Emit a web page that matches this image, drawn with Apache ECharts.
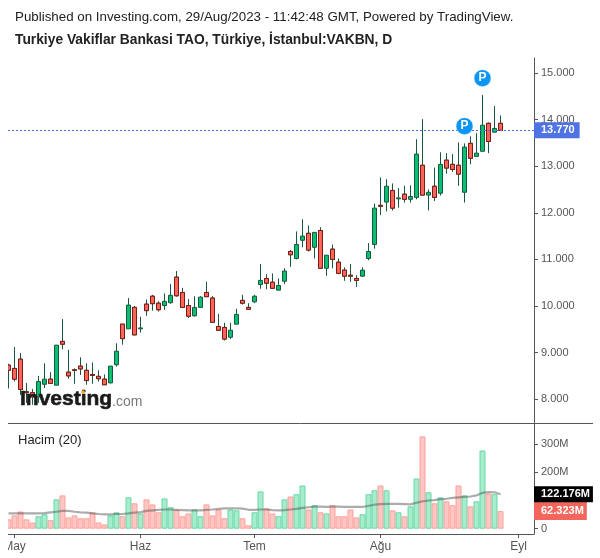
<!DOCTYPE html>
<html><head><meta charset="utf-8">
<style>html,body{margin:0;padding:0;background:#fff}#c{width:600px;height:558px}</style>
<script src="https://cdn.jsdelivr.net/npm/echarts@6/dist/echarts.min.js"></script>
</head><body><div id="c"></div>
<script>
// open, close, low, high per trading day
const opens=[8.73,8.66,8.86,8.16,8.14,8.05,8.32,8.43,8.30,9.24,8.58,8.63,8.71,8.62,8.53,8.49,8.43,8.35,8.74,9.61,9.51,9.97,9.51,10.04,10.21,10.06,10.01,10.07,10.62,10.29,10.01,9.79,9.97,10.29,10.17,9.56,9.54,9.33,9.61,10.12,9.97,10.09,10.46,10.59,10.51,10.34,10.53,11.17,11.02,11.41,11.56,11.26,11.62,10.81,11.22,10.94,10.77,10.66,10.59,10.64,11.02,11.32,12.16,12.23,12.48,12.30,12.40,12.29,12.33,13.02,12.38,12.57,12.42,13.13,13.04,13.02,12.44,13.49,13.21,13.32,13.92,13.73,13.92];
const closes=[8.62,8.43,8.21,8.14,8.05,8.38,8.43,8.34,9.16,9.18,8.50,8.62,8.65,8.40,8.51,8.44,8.31,8.71,9.03,9.30,10.02,9.38,9.53,9.90,10.05,9.92,10.10,10.23,10.22,9.97,9.78,9.97,10.19,10.20,9.65,9.48,9.29,9.48,9.82,10.06,9.93,10.21,10.55,10.49,10.38,10.44,10.75,11.10,11.32,11.50,11.20,11.58,10.81,11.09,11.00,10.70,10.64,10.64,10.55,10.77,11.17,12.10,12.14,12.57,12.10,12.32,12.29,12.35,13.26,12.38,12.44,12.33,13.04,12.96,12.93,12.83,13.41,13.17,13.28,13.88,13.53,13.81,13.77];
const lows=[8.23,8.38,8.09,7.92,7.88,7.92,8.24,8.34,8.30,9.07,8.44,8.33,8.52,8.31,8.33,8.38,8.31,8.34,8.70,9.17,9.51,9.38,9.43,9.79,9.90,9.88,9.92,10.05,10.20,9.97,9.74,9.77,9.97,10.20,9.65,9.48,9.26,9.29,9.61,10.03,9.92,10.06,10.37,10.36,10.38,10.34,10.47,10.84,11.00,11.26,11.17,11.02,10.81,10.65,10.81,10.68,10.54,10.52,10.41,10.62,10.98,11.23,11.95,12.03,12.05,12.11,12.22,12.22,12.29,12.38,12.05,12.25,12.37,12.84,12.88,12.58,12.22,13.04,13.21,13.32,13.28,13.73,13.77];
const highs=[8.76,9.12,8.99,8.35,8.22,8.50,8.77,8.58,9.16,9.72,9.06,8.66,8.90,8.77,8.79,8.62,8.53,8.71,9.20,9.61,10.17,10.00,9.77,10.14,10.24,10.10,10.27,10.47,10.75,10.39,10.15,10.21,10.21,10.52,10.21,9.83,9.64,9.64,9.94,10.24,10.06,10.24,10.90,10.68,10.70,10.59,10.81,11.20,11.60,11.86,11.73,11.58,11.69,11.09,11.32,11.02,10.83,10.90,10.66,10.83,11.35,12.20,12.76,12.72,12.63,12.53,12.58,12.59,13.58,14.01,12.50,12.97,13.30,13.28,13.26,13.51,13.49,13.64,13.71,14.53,13.94,14.29,14.09];
// volume in millions
const volumes=[33,47,61,33,22,44,51,30,104,118,40,47,37,37,58,22,15,47,58,44,111,90,54,104,86,58,107,76,66,44,54,68,44,86,47,68,37,68,65,37,12,58,132,72,54,44,104,114,122,153,68,83,58,54,83,44,44,68,40,51,122,136,153,136,65,58,44,79,178,327,129,90,111,97,83,153,118,79,97,277,125,122,62.323];
const volumeAvg=[54,54,54,54,54,54,55,58,60,63,63,60,58,57,54,52,51,51,52,52,54,57,59,63,65,67,68,68,67,66,65,65,65,67,68,70,72,72,72,71,67,67,68,68,66,65,66,68,70,74,76,78,78,77,78,78,77,77,77,77,81,85,87,88,88,88,87,86,92,97,100,101,105,106,109,111,113,114,118,127,130,129,122.176];
const monthTicks=[1,22,41,62,85];
const monthNames=['May','Haz','Tem','Ağu','Eyl'];
const priceTicks=[8,9,10,11,12,13,14,15];
const volumeTicks=[0,100,200,300];
const lastPrice=13.77, lastAvg=122.176, lastVolume=62.323;
const pins=[[76,13.86],[79,14.89]];

const FONT='"Liberation Sans",Arial,sans-serif', AX='#555';
const idx=opens.map((_,i)=>i);
const xBase={type:'value',min:-0.0833,max:87.5833,splitLine:{show:false},
  axisLine:{onZero:false,lineStyle:{color:AX,width:1}}};
const yBase={type:'value',position:'right',scale:true,splitLine:{show:false},
  axisLine:{show:true,onZero:false,lineStyle:{color:AX,width:1}},
  axisTick:{show:true,length:4,lineStyle:{color:AX}}};
const tagLabel=(text,bg,pad)=>({position:'end',distance:0,formatter:()=>text,color:'#fff',fontWeight:'bold',fontSize:11,
  backgroundColor:bg,padding:pad,lineHeight:12,fontFamily:FONT});
const chart=echarts.init(document.getElementById('c'),null,{renderer:'canvas'});
chart.setOption({
  animation:false,
  textStyle:{fontFamily:FONT},
  title:[
    {text:'Published on Investing.com, 29/Aug/2023 - 11:42:48 GMT, Powered by TradingView.',left:15,top:11,padding:0,textStyle:{fontSize:13.33,fontWeight:'normal',color:'#222',fontFamily:FONT}},
    {text:'Turkiye Vakiflar Bankasi TAO, Türkiye, İstanbul:VAKBN, D',left:15,top:33,padding:0,textStyle:{fontSize:13.8,fontWeight:'bold',color:'#222',fontFamily:FONT}},
    {text:'Hacim (20)',left:18,top:434,padding:0,textStyle:{fontSize:13,fontWeight:'normal',color:'#222',fontFamily:FONT}}
  ],
  grid:[
    {left:8,right:66,top:58,height:365},
    {left:8,right:66,top:424,height:110}
  ],
  xAxis:[
    Object.assign({},xBase,{gridIndex:0,axisLine:{show:false},axisTick:{show:false},axisLabel:{show:false}}),
    Object.assign({},xBase,{gridIndex:1,
      axisTick:{show:true,length:4,lineStyle:{color:AX},customValues:monthTicks},
      axisLabel:{show:true,color:AX,fontSize:12,margin:7,customValues:monthTicks,
        formatter:v=>monthNames[monthTicks.indexOf(v)]||''}})
  ],
  yAxis:[
    Object.assign({},yBase,{gridIndex:0,min:7.489,max:15.322,
      axisTick:Object.assign({},yBase.axisTick,{customValues:priceTicks}),
      axisLabel:{color:AX,fontSize:11,margin:7,customValues:priceTicks,formatter:v=>v.toFixed(3)}}),
    Object.assign({},yBase,{gridIndex:1,min:-18.8,max:371,
      axisTick:Object.assign({},yBase.axisTick,{customValues:volumeTicks}),
      axisLabel:{color:AX,fontSize:11,margin:7,customValues:volumeTicks,formatter:v=>v===0?'0':v+'M'}})
  ],
  series:[
    {type:'candlestick',name:'wicks',xAxisIndex:0,yAxisIndex:0,barWidth:4,
      encode:{x:0,y:[1,2,3,4]},
      itemStyle:{color:'#0bbf72',color0:'#ff6459',borderColor:'#17593d',borderColor0:'#17593d',borderWidth:1},
      data:idx.map(i=>[i,opens[i],closes[i],lows[i],highs[i]]),
      markLine:{silent:true,symbol:'none',animation:false,
        lineStyle:{color:'#4a6fe3',type:[2,2],width:1},
        label:tagLabel(lastPrice.toFixed(3),'#4f72e5',[2,5,2,7]),
        data:[{yAxis:lastPrice}]}},
    {type:'candlestick',name:'down bodies',xAxisIndex:0,yAxisIndex:0,barWidth:4,
      encode:{x:0,y:[1,2,3,4]},
      itemStyle:{color:'#ff6459',color0:'#ff6459',borderColor:'#7b1d16',borderColor0:'#7b1d16',borderWidth:1},
      data:idx.filter(i=>closes[i]<opens[i]).map(i=>[i,opens[i],closes[i],closes[i],opens[i]])},
    {type:'scatter',xAxisIndex:0,yAxisIndex:0,symbolSize:17,z:5,
      itemStyle:{color:'#0a96f2',borderColor:'#fff',borderWidth:0.5,opacity:1},
      label:{show:true,position:'inside',formatter:'P',color:'#fff',fontWeight:'bold',fontSize:12,fontFamily:FONT},
      data:pins},
    {type:'bar',xAxisIndex:1,yAxisIndex:1,barWidth:6,
      data:idx.map(i=>({value:[i,volumes[i]],itemStyle:closes[i]>=opens[i]
        ?{color:'#a7edcd',borderColor:'#66d8a6',borderWidth:1}
        :{color:'#ffc6c3',borderColor:'#ffa09b',borderWidth:1}})),
      markLine:{silent:true,symbol:'none',animation:false,lineStyle:{color:'transparent'},
        label:tagLabel(lastVolume.toFixed(3)+'M','#f4665b',[3,3,3,7]),
        data:[{yAxis:lastVolume}]}},
    {type:'line',xAxisIndex:1,yAxisIndex:1,showSymbol:false,z:4,
      lineStyle:{color:'rgba(90,90,90,0.5)',width:2.2},
      data:idx.map(i=>[i,volumeAvg[i]]),
      markLine:{silent:true,symbol:'none',animation:false,lineStyle:{color:'transparent'},
        label:tagLabel(lastAvg.toFixed(3)+'M','#000',[2,3,2,7]),
        data:[{yAxis:lastAvg}]}}
  ],
  graphic:[
    {type:'rect',z:60,shape:{x:0,y:58,width:8,height:500},style:{fill:'#fff'}},
    {type:'line',z:61,shape:{x1:8,y1:423.5,x2:593,y2:423.5},style:{stroke:AX,lineWidth:1}},
    {type:'text',z:70,x:20,y:389,style:{text:'Investing',fontFamily:FONT,fontWeight:'bold',fontSize:21,fill:'#1a1a1a',stroke:'#1a1a1a',lineWidth:0.6}},
    {type:'text',z:70,x:112,y:395,style:{text:'.com',fontFamily:FONT,fontSize:14,fill:'#77787a'}},
    {type:'circle',z:71,shape:{cx:83,cy:392,r:1.8},style:{fill:'#f9a825'}}
  ]
});
</script></body></html>
